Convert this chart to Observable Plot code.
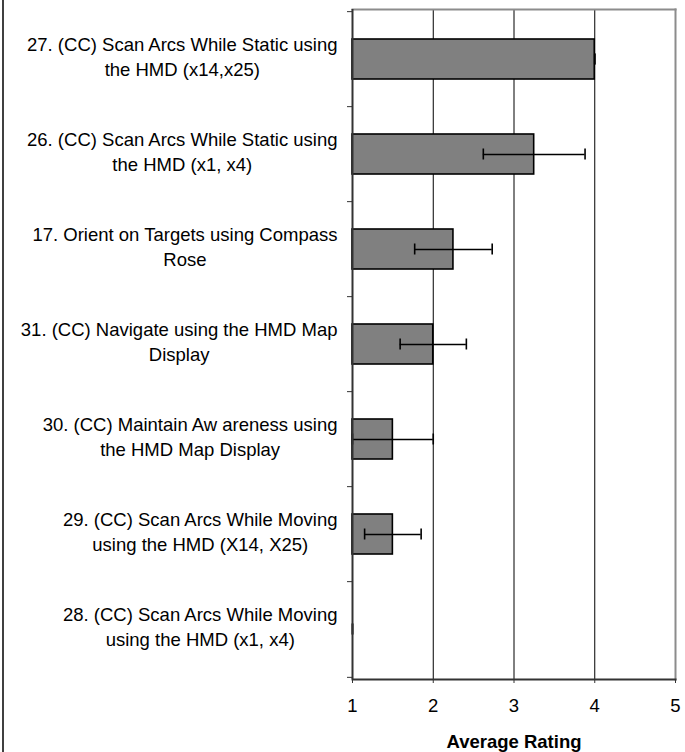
<!DOCTYPE html>
<html>
<head>
<meta charset="utf-8">
<script src="https://cdn.jsdelivr.net/npm/d3@7"></script>
<script src="https://cdn.jsdelivr.net/npm/@observablehq/plot@0.6"></script>
<style>
  body { margin: 0; background: #fff; }
  #wrap { position: relative; width: 685px; height: 752px; overflow: hidden; background: #fff; }
  #chart { position: absolute; left: 0; top: 0; }
  #edge { position: absolute; left: 2px; top: 0; width: 2px; height: 752px; background: #404040; z-index: 2; }
</style>
</head>
<body>
<div id="wrap"><div id="chart"></div><div id="edge"></div></div>
<script>
// Categories (top to bottom), wrapped as in the reference
const categories = [
  "27. (CC) Scan Arcs While Static using\nthe HMD (x14,x25)",
  "26. (CC) Scan Arcs While Static using\nthe HMD (x1, x4)",
  "17. Orient on Targets using Compass\nRose",
  "31. (CC) Navigate using the HMD Map\nDisplay",
  "30. (CC) Maintain Aw areness using\nthe HMD Map Display",
  "29. (CC) Scan Arcs While Moving\nusing the HMD (X14, X25)",
  "28. (CC) Scan Arcs While Moving\nusing the HMD (x1, x4)"
];
const averages = [4.0, 3.25, 2.25, 2.0, 1.5, 1.5, 1.0];
const errors   = [0, 0.63, 0.48, 0.41, 0.5, 0.35, 0];
const xTicks = [1, 2, 3, 4, 5];
const gridValues = [2, 3, 4];
const xTitle = "Average Rating";

const data = categories.map((c, i) => ({
  name: c, value: averages[i], lo: averages[i] - errors[i], hi: averages[i] + errors[i]
}));

const W = 685, H = 752, mT = 9, mB = 73, mL = 352, mR = 10;
const step = (H - mT - mB) / categories.length;
const font = "Liberation Sans, Arial, sans-serif";

const chart = Plot.plot({
  width: W, height: H,
  marginTop: mT, marginBottom: mB, marginLeft: mL, marginRight: mR,
  style: { fontFamily: font, fontSize: "18.5px", color: "black", background: "transparent", overflow: "visible" },
  x: { domain: [1, 5], axis: null },
  y: { domain: categories, paddingInner: 0.58, paddingOuter: 0.29, axis: null },
  marks: [
    Plot.ruleX(gridValues, { stroke: "black", strokeWidth: 1 }),
    Plot.frame({ anchor: "top", stroke: "#8c8c8c", strokeWidth: 2 }),
    Plot.frame({ anchor: "right", stroke: "#8c8c8c", strokeWidth: 2 }),
    Plot.barX(data, { y: "name", x1: 1, x2: "value", fill: "#808080", stroke: "black", strokeWidth: 1.6 }),
    Plot.ruleY(data, { y: "name", x1: "lo", x2: "hi", stroke: "black", strokeWidth: 1.6 }),
    Plot.tickX(data, { y: "name", x: "lo", stroke: "black", strokeWidth: 1.6, insetTop: 14.5, insetBottom: 14.5 }),
    Plot.tickX(data, { y: "name", x: "hi", stroke: "black", strokeWidth: 1.6, insetTop: 14.5, insetBottom: 14.5 }),
    Plot.ruleX([1], { stroke: "#333", strokeWidth: 2 }),
    Plot.frame({ anchor: "bottom", stroke: "#333", strokeWidth: 2 }),
    // boundary ticks on the category axis
    Plot.axisY({ tickSize: 5, tickFormat: () => "", dy: -step / 2, stroke: "#333", label: null }),
    Plot.axisY({ ticks: [categories[categories.length - 1]], tickSize: 5, tickFormat: () => "", dy: step / 2, stroke: "#333", label: null }),
    // category labels
    Plot.axisY({ tickSize: 0, tickPadding: 15, textAnchor: "end", lineWidth: 1000, lineHeight: 1.36, fontSize: 18.5, fill: "black", dy: -4, label: null }),
    Plot.axisX({ ticks: xTicks, tickFormat: d3.format("d"), tickSize: 4, tickPadding: 15, label: null, fontSize: 18.5, stroke: "#333", fill: "black" }),
    Plot.text([xTitle], { frameAnchor: "bottom", dy: 68, fontWeight: "bold", fontSize: 18.5, fill: "black" })
  ]
});
document.getElementById("chart").appendChild(chart);

// Center each wrapped label's lines on one another, keeping the block right-aligned
const labelGroups = chart.querySelectorAll('g[aria-label="y-axis tick label"]');
const lastGroup = labelGroups[labelGroups.length - 1];
if (lastGroup) {
  lastGroup.querySelectorAll("text").forEach(t => {
    const spans = t.querySelectorAll("tspan");
    if (!spans.length) return;
    let w = 0;
    spans.forEach(s => { w = Math.max(w, s.getComputedTextLength()); });
    t.setAttribute("text-anchor", "middle");
    t.style.textAnchor = "middle";
    spans.forEach(s => s.setAttribute("x", -w / 2));
  });
}
</script>
</body>
</html>
